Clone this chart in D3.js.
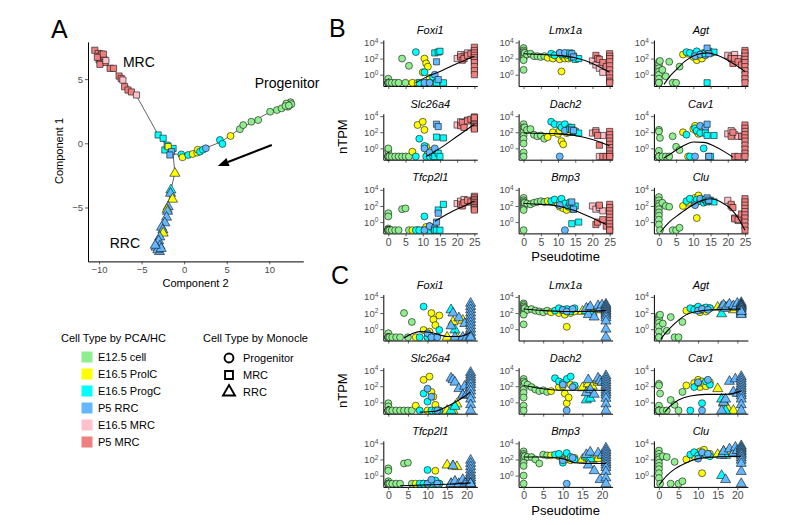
<!DOCTYPE html>
<html><head><meta charset="utf-8">
<script src="https://cdn.jsdelivr.net/npm/d3@7"></script>
<style>body{margin:0;background:#fff}svg{display:block}text{font-family:"Liberation Sans",Arial,Helvetica,sans-serif}</style>
</head><body><svg id="chart" width="787" height="525"></svg>
<script>
// ---------- Panel A: Monocle trajectory ----------
const aComp2 = [-10.5,-10.1,-9.9,-9.7,-10.0,-9.6,-9.8,-9.4,-10.2,-9.5,-9.3,-9.9,-9.2,
  -8.7,-8.3,-7.65,-7.4,-7.2,-7.0,-6.6,-6.2,-5.6,
  -3.06,-2.47,-2.27,-1.3,-2.0,-1.88,-1.48,-1.68,
  -0.33,-0.2,0.47,1.0,1.53,1.6,1.85,2.2,2.55,4.2,4.5,5.45,6.55,6.94,7.9,8.7,10.1,10.9,11.45,12.05,12.3,12.5,12.2,12.4,12.0,12.6,11.9,12.3,
  -1.09,-1.56,-1.6,-1.37,-1.88,-2.0,-1.95,-2.07,-2.27,-2.66,-2.5,-2.47,-2.86,-3.2,-3.0,-2.85,-3.3,-2.9,-3.1,-2.7,-3.4];
const aComp1 = [7.25,7.0,6.8,6.95,6.5,6.6,6.3,6.5,6.7,6.95,6.3,6.15,6.45,
  5.84,5.84,5.24,5.05,4.93,4.41,4.15,4.0,3.76,
  0.65,0.39,-0.52,-0.4,-0.15,-0.26,-0.65,-0.91,
  -0.87,-1.09,-0.91,-0.83,-0.73,-0.5,-0.65,-0.5,-0.39,0.26,-0.05,0.57,1.1,1.42,1.68,1.81,2.46,2.59,2.72,2.98,3.1,3.2,2.85,3.0,3.1,3.05,2.9,2.95,
  -2.34,-3.64,-3.9,-4.36,-4.94,-5.15,-5.3,-5.76,-6.2,-6.54,-6.75,-7.0,-7.3,-7.8,-7.6,-8.0,-8.1,-8.44,-8.3,-8.2,-7.95];
const aType  = [..."SSSSSSSSSSSSP" + "SSSSPSSSP" + "CCCCCYBB" + "CYCYYYCCBCCYGGGGGGGGGGGGGGGG" + "YCBYBYBBBBBYBBBBBBBBB"];
const aState = [..."sssssssssssss" + "sssssssss" + "ssssssss" + "oooooooooooooooooooooooooooo" + "ttttttttttttttttttttt"];
const trajMRC  = [[-10.4,7.2],[-9.9,6.8],[-7.4,5.1],[-5.6,3.7],[-3.0,0.6],[-1.3,-0.8]];
const trajProg = [[12.3,3.0],[10.1,2.45],[6.5,1.1],[4.3,0.1],[2.2,-0.45],[0,-0.95],[-1.3,-0.8]];
const trajRRC  = [[-1.3,-0.8],[-1.1,-2.3],[-1.6,-3.8],[-2.1,-5.5],[-2.7,-6.8],[-3.0,-8.3]];
const aLabels = [["MRC",-7.2,6.3],["Progenitor",8.3,4.7],["RRC",-8.75,-7.8]];
const aArrow = [[10.3,-0.13],[3.95,-1.77]];
const aXTicks = [-10,-5,0,5,10];
const aYTicks = [-5,0,5];

// ---------- Legend ----------
const typeCodes  = ["G","Y","C","B","P","S"];
const typeLabels = ["E12.5 cell","E16.5 ProlC","E16.5 ProgC","P5 RRC","E16.5 MRC","P5 MRC"];
const typeColors = ["#90EE90","#FFFF00","#00FFFF","#63B8FF","#FFC0CB","#F08080"];
const stateCodes = ["o","s","t"];
const stateLabels = ["Progenitor","MRC","RRC"];

// ---------- Panels B/C: genes ----------
const genes = ["Foxi1","Lmx1a","Agt","Slc26a4","Dach2","Cav1","Tfcp2l1","Bmp3","Clu"];
const logTicks = [0,2,4];

// Panel B cells (MRC branch)
const bPseudotime = [0,0,0,0,0,0,0,0,0,0.3,1,2,3,4,5,6, 7,8.5,10,10.5,11,11.5,12,12.5,13, 8,9,10.5,11,12,13, 10.5,12,13.5,
  13.5,14,14.5,15,16, 14,14.5, 20,21,22,23, 21,21.5,22,23,24,25,25,25,25,25,25,25,25,25,25];
const bType  = [..."GGGGGGGGGGGGGGGG" + "YYYYYYYYY" + "CCCCCC" + "BBB" + "CCCCC" + "BB" + "PPPP" + "SSSSSSSSSSSSSSS"];
const bState = [..."oooooooooooooooo" + "ooooooooo" + "oooooo" + "ooo" + "sssss" + "ss" + "ssss" + "sssssssssssssss"];
const bXTicks = [0,5,10,15,20,25];
// log10 nTPM per cell (−1 = not detected)
const bFoxi1 = [-0.5,-1,-1,-1,-1,-1,-1,-1,-1,-1,-1,-1,-1,2.0,-1,1.1, -1,-1,0.3,2.0,1.4,1.0,-0.4,-1,-1, 2.8,-1,0.3,-1,-1,-0.3, -1,-1,0.0,
  2.7,-1,2.8,2.9,-1, 1.6,-0.6, 2.0,2.5,2.3,2.7, 2.2,1.8,2.0,2.4,2.6,3.4,3.0,2.7,2.4,2.1,1.8,1.5,1.0,0.5,0.0];
const bLmx1a = [3.3,3.0,2.8,2.6,2.4,2.2,2.0,1.8,0.6,2.7,2.5,2.6,2.3,2.3,2.2,2.3, 2.1,2.0,2.1,1.9,0.4,2.2,2.0,2.3,2.0, 2.6,2.4,2.7,2.5,2.6,2.4, 2.7,2.7,2.5,
  2.7,2.1,2.3,1.9,2.0, 2.6,2.2, 1.7,1.2,0.8,0.3, 2.4,2.0,1.9,1.5,1.0,2.6,2.3,2.0,1.6,1.1,0.6,0.1,-0.4,-0.8,-1];
const bAgt = [1.6,1.2,0.8,0.4,0,-0.5,-1,-1,-1,1.7,0.6,-0.2,1.6,-1,-1,1.0, 2.5,2.6,2.2,2.4,1.8,2.3,2.5,2.0,2.6, 2.8,2.7,2.6,2.9,2.5,2.7, 2.3,2.5,2.4,
  2.6,-1,2.9,2.7,2.8, 3.3,2.6, 2.4,2.2,2.5,2.0, 2.0,1.4,2.0,1.6,1.2,3.0,2.7,2.3,1.9,1.5,1.0,0.5,0.0,-0.5,-1];
const bSlc26a4 = [-0.3,0,-1,-1,-1,-1,-1,-1,-1,-1,-1,-1,-1,-1,-1,-1, -0.4,2.9,3.3,2.3,0.2,-0.6,-1,-0.3,-1, -1,1.2,0.3,-1,-1,-1, 0.0,-0.5,0.0,
  -1,1.4,-0.6,-1,1.3, 3.0,2.7, 2.9,3.3,3.1,3.5, 2.8,3.2,2.6,3.4,3.6,3.9,3.7,3.5,3.3,3.1,2.9,2.7,2.5,2.4,3.8];
const bDach2 = [3.0,2.6,2.3,2.0,1.6,1.2,0.6,-0.5,-1,2.6,2.3,2.4,1.7,1.5,1.6,1.2, 1.4,2.0,1.8,2.2,0.9,0.5,2.3,1.9,2.0, 3.3,3.0,2.9,2.6,3.0,2.4, -1,2.2,2.6,
  2.4,2.6,2.0,2.1,1.9, 2.3,2.2, 1.9,2.2,-1,1.6, 2.0,1.6,0.4,-1,-1,2.1,1.7,1.3,0.9,0.5,0.1,-0.3,-0.7,-1,-1];
const bCav1 = [2.3,2.1,-0.3,-1,-1,-1,-1,-1,-1,1.3,-1,-1,-1,1.5,0.2,-0.2, 2.0,-1,2.4,2.8,2.1,1.8,2.6,2.2,2.3, 1.7,-1,2.5,2.2,1.9,0.0, -1,2.8,2.6,
  1.9,1.6,-1,-1,1.6, 3.0,-1, 1.8,2.2,1.7,1.5, 1.5,2.0,-1,-1,1.5,2.9,2.5,2.1,1.7,1.3,0.9,0.4,-0.1,-0.6,-1];
const bTfcp2l1 = [1.1,0.7,-0.8,-1,-1,-1,-1,-1,-1,-1,-1,-1,-1,1.6,1.7,-1, -1,-1,-1,-1,-0.6,-1,-0.5,-1,-1, -1,-1,0.7,-1,-1,-0.8, -1,-0.5,-0.7,
  -1,-1,1.5,-1,2.2, 0.0,1.1, 2.3,2.6,2.8,2.5, 2.2,2.0,2.4,2.7,2.5,3.2,3.0,2.8,2.6,2.4,2.2,2.0,1.8,1.6,1.5];
const bBmp3 = [3.0,2.7,2.5,2.3,2.1,1.9,1.7,1.5,-1,2.4,2.3,2.2,2.4,2.5,2.6,2.5, 2.6,2.5,2.2,1.9,2.1,1.7,2.3,1.5,2.0, 2.6,2.8,2.5,2.9,2.3,1.9, 2.1,-1,2.2,
  2.4,-0.2,1.6,2.0,0.0, 2.5,1.6, 2.0,1.6,1.8,1.4, -0.3,0.0,2.1,0.3,-0.5,2.2,1.8,1.4,1.0,0.6,0.2,-0.2,-0.6,-1,-1];
const bClu = [3.1,2.7,2.3,2.0,1.6,1.2,0.8,0.3,-0.3,-1,2.4,2.0,1.9,-1,-1,-0.7, 2.0,2.4,2.7,3.0,0.5,3.3,2.6,2.8,2.7, 2.6,2.9,2.5,2.8,2.6,2.4, 2.1,2.9,2.7,
  2.8,2.5,2.6,2.7,2.5, 3.0,2.7, 2.7,2.0,0.5,0.2, 2.2,1.8,0.4,0.3,1.0,2.9,2.5,2.1,1.7,1.3,0.9,0.5,0.0,-0.5,-1];
// fitted trends [pseudotime, log10 nTPM]
const bFitFoxi1 = [[8,-1.0],[11,-0.3],[15,0.4],[20,1.4],[25,2.3]];
const bFitLmx1a = [[0,2.6],[5,2.5],[10,2.4],[15,2.1],[20,1.4],[25,0.3]];
const bFitAgt = [[1.5,-1.2],[3,-0.3],[5,0.6],[8,1.8],[11,2.5],[14,2.7],[17,2.4],[20,1.8],[23,1.0],[25,0.4]];
const bFitSlc26a4 = [[11,-1.0],[15,0.0],[20,1.5],[25,3.0]];
const bFitDach2 = [[0,1.9],[10,1.8],[15,1.6],[20,1.1],[25,0.3]];
const bFitCav1 = [[1.5,-1.2],[4,-0.5],[7,0.3],[10,0.8],[13,0.75],[16,0.3],[19,-0.4],[21.5,-1.1]];
const bFitTfcp2l1 = [[13.5,0.1],[18,1.2],[22,2.0],[25,2.6]];
const bFitBmp3 = [[0,2.3],[5,2.2],[10,2.0],[15,1.4],[20,0.5],[24,-0.3]];
const bFitClu = [[0.5,-1.2],[3,0],[6,1.0],[9,1.9],[12,2.6],[15,2.9],[18,2.5],[21,1.6],[23,0.5],[25,-1.0]];

// Panel C cells (RRC branch)
const cPseudotime = [0,0,0,0,0,0,0,0,0,0.3,1,2,3,4,5,6, 7,9,10,10.5,11,11.5,12,13, 8,9,10,11,12,13, 10,11,12.5,
  15,16.5,17.5,19, 16,17, 16,16.5,17,18,19,19.5,20,21,21,21,21,21,21,21,21,21,21,21,21];
const cType  = [..."GGGGGGGGGGGGGGGG" + "YYYYYYYY" + "CCCCCC" + "BBB" + "YYYY" + "CC" + "BBBBBBBBBBBBBBBBBBB"];
const cState = [..."oooooooooooooooo" + "oooooooo" + "oooooo" + "ooo" + "tttt" + "tt" + "ttttttttttttttttttt"];
const cXTicks = [0,5,10,15,20];
const cFoxi1 = [-0.5,-1,-1,-1,-1,-1,-1,-1,-1,-1,-1,-1,-1,2.0,-1,0.9, -1,-0.1,-1,-0.3,2.0,1.2,0.5,1.7, -1,2.8,-1,-1,-1,-0.1, -0.5,-1,-1,
  -1,0.9,-1,1.1, 2.4,-0.1, 0.4,2.0,-1,1.4,-1,0.7,-1,3.2,2.8,2.4,2.0,1.6,1.2,0.8,0.4,0,-0.4,-0.8,-1];
const cLmx1a = [3.2,3.0,2.8,2.6,2.4,2.2,2.0,1.8,0.6,2.6,2.4,2.5,2.3,2.2,2.1,2.3, 2.1,2.0,2.2,1.8,0.3,2.4,2.0,2.2, 2.3,2.6,2.4,2.5,2.2,2.6, 2.4,2.2,2.5,
  2.2,2.5,2.1,2.4, 2.3,2.0, 2.6,1.8,2.8,1.5,2.9,2.5,3.0,3.1,2.9,2.7,2.5,2.3,2.1,1.9,1.7,1.4,1.0,0.0,-1];
const cAgt = [1.7,1.5,1.2,0.8,0.3,-0.3,-1,-1,-1,1.8,0.7,-0.2,1.5,-1,-1,0.9, 2.3,2.5,2.7,2.1,2.4,2.6,2.2,2.6, 2.6,2.4,2.8,2.5,2.7,2.6, 2.3,2.5,2.4,
  2.7,2.6,2.8,2.4, 1.9,2.7, 2.8,3.0,2.6,3.1,2.9,2.7,3.2,3.3,3.1,3.0,2.9,2.8,2.7,2.5,2.3,2.1,1.9,1.8,2.2];
const cSlc26a4 = [-0.1,-0.5,-1,-1,-1,-1,-1,-1,-1,-1,-1,-1,-1,-1,-1,-1, -0.4,2.8,-1,3.2,1.3,0.7,-0.3,-1, -1,1.1,0.1,-1,-1,-1, 1.7,0.7,-1,
  -1,-1,-0.2,0.9, -1,-0.5, 3.0,2.8,2.5,1.7,0.9,2.0,1.0,3.7,3.4,3.1,2.8,2.5,2.2,1.8,1.4,0.9,0.4,-0.3,-1];
const cDach2 = [2.9,2.6,2.3,2.0,1.6,1.2,0.6,-0.4,-1,2.4,2.2,1.9,1.6,1.4,1.5,1.3, 1.4,1.9,2.0,1.1,-0.1,0.6,2.2,2.0, 3.0,2.6,2.4,2.9,3.2,2.1, 2.2,-1,1.9,
  1.8,2.3,2.0,2.5, 0.3,0.5, 1.2,2.8,1.6,1.0,3.0,2.7,2.5,3.3,3.0,2.7,2.4,2.1,1.8,1.5,1.2,0.9,0.5,-0.2,-1];
const cCav1 = [2.3,2.1,-0.4,-1,-1,-1,-1,-1,-1,1.1,-1,-1,0.3,-0.3,-1,1.3, 2.1,2.4,2.8,1.9,2.6,2.3,2.0,2.5, -1,1.9,2.4,-0.1,2.6,2.2, 2.5,-1,2.8,
  1.7,-0.1,-0.7,-1, 0.4,-1, -1,0.0,0.4,2.6,1.3,2.9,1.1,3.2,2.9,2.6,2.3,2.0,1.7,1.4,1.1,0.8,0.4,-0.3,-1];
const cTfcp2l1 = [0.9,0.6,-0.7,-1,-1,-1,-1,-1,-1,-1,-1,-1,-1,1.5,1.6,-1, -1,-1,-1,-1,-0.7,-1,0.6,-1, -1,-1,0.7,-1,-0.6,-1, -1,-0.5,-1,
  1.3,1.2,1.1,-1, -1,-0.8, -1,1.2,-0.7,-1,-0.5,-1,-0.8,1.9,1.5,1.1,0.7,0.3,0,-0.3,-0.6,-0.9,-1,-1,-1];
const cBmp3 = [3.0,2.7,2.5,2.2,1.9,1.6,1.2,0.0,-1,2.4,2.3,2.3,2.0,1.5,2.6,2.5, 2.5,2.4,2.2,2.1,2.0,2.3,1.9,2.2, 2.6,2.7,1.6,2.8,2.3,2.0, 1.9,-1,2.2,
  2.0,2.2,2.0,2.1, 2.4,2.1, 2.6,1.3,2.9,0.6,2.8,-0.5,2.5,3.4,3.1,2.8,2.5,2.2,1.9,1.6,1.3,1.0,0.5,-0.3,-1];
const cClu = [3.1,2.7,2.3,2.0,1.6,1.2,0.8,0.3,-0.3,-1,2.4,2.3,-1,1.7,-1,-0.7, 2.0,2.4,2.8,3.0,0.3,3.2,2.6,2.7, 2.6,2.9,2.5,2.8,2.6,2.4, 2.1,2.9,2.7,
  2.6,3.0,2.8,2.7, 0.0,2.5, 2.5,3.0,-0.5,3.3,2.8,3.5,3.1,3.7,3.5,3.3,3.1,2.9,2.7,2.5,2.2,1.9,1.5,0.5,-1];
const cFitFoxi1 = [[4,-1.1],[8,-0.3],[11,-0.4],[15,-0.9],[18,-0.9],[21,-0.4]];
const cFitLmx1a = [[0,2.5],[5,2.3],[10,2.2],[15,2.2],[21,2.3]];
const cFitAgt = [[0.5,-1.2],[2,-0.3],[4,0.7],[6,1.5],[8,2.0],[11,2.3],[15,2.45],[21,2.5]];
const cFitSlc26a4 = [[8,-1.2],[12,-1.1],[15,-0.5],[18,0.3],[21,1.3]];
const cFitDach2 = [[0,2.1],[5,1.7],[10,1.5],[15,1.5],[21,1.5]];
const cFitCav1 = [[1.5,-1.2],[3,-0.4],[5,0.3],[8,0.8],[12,1.0],[17,1.0],[21,1.4]];
const cFitTfcp2l1 = [[3,-1.25],[10,-1.15],[16,-1.05],[21,-0.9]];
const cFitBmp3 = [[0,2.3],[5,2.3],[10,2.1],[13,1.6],[16,1.5],[21,1.5]];
const cFitClu = [[0,-1.2],[2,0],[4,0.8],[7,1.6],[10,2.1],[14,2.3],[21,2.4]];

// ================= drawing =================
const svg = d3.select("#chart");
const colorScale = d3.scaleOrdinal().domain(typeCodes).range(typeColors);
const symbolScale = d3.scaleOrdinal().domain(stateCodes).range([d3.symbolCircle, d3.symbolSquare, d3.symbolTriangle]);
const symbolSize = {o: 38, s: 38, t: 44};
const tickGrey = "#4D4D4D";

function styleAxis(g, fs) {
  g.select(".domain").attr("stroke", "#000").attr("stroke-width", 1);
  g.selectAll(".tick line").attr("stroke", "#333").attr("stroke-width", 0.8);
  g.selectAll(".tick text").attr("fill", tickGrey).attr("font-size", fs).attr("font-family", "Liberation Sans, Arial, sans-serif");
}
function drawPoints(g, xs, ys, types, states) {
  g.selectAll("path.pt").data(xs.map((x, i) => ({x, y: ys[i], t: types[i], s: states[i]})))
    .enter().append("path").attr("class", "pt")
    .attr("transform", d => `translate(${d.x},${d.y})`)
    .attr("d", d => d3.symbol().type(symbolScale(d.s)).size(symbolSize[d.s])())
    .attr("fill", d => colorScale(d.t)).attr("stroke", "#111").attr("stroke-width", 0.6);
}

// ---- Panel A ----
const xA = d3.scaleLinear().domain([-11.3, 14.0]).range([88, 303.3]);
const yA = d3.scaleLinear().domain([-9.2, 7.9]).range([261.4, 41.9]);
const gA = svg.append("g");
gA.append("g").attr("transform", "translate(0,261.4)")
  .call(d3.axisBottom(xA).tickValues(aXTicks).tickSize(3).tickSizeOuter(0).tickPadding(2)).call(styleAxis, "9.5px");
gA.append("g").attr("transform", "translate(88,0)")
  .call(d3.axisLeft(yA).tickValues(aYTicks).tickSize(3).tickSizeOuter(0).tickPadding(2)).call(styleAxis, "9.5px");
const trajLine = d3.line().x(d => xA(d[0])).y(d => yA(d[1]));
[trajMRC, trajProg, trajRRC].forEach(t => gA.append("path").attr("d", trajLine(t)).attr("fill", "none").attr("stroke", "#222").attr("stroke-width", 0.7));
drawPoints(gA, aComp2.map(v => xA(v)), aComp1.map(v => yA(v)), aType, aState);
aLabels.forEach(([t, x, y]) => gA.append("text").attr("x", xA(x)).attr("y", yA(y)).attr("dy", "0.35em").attr("font-size", "14px").attr("fill", "#000").text(t));
// arrow
{
  const [p0, p1] = aArrow.map(p => [xA(p[0]), yA(p[1])]);
  const ang = Math.atan2(p1[1] - p0[1], p1[0] - p0[0]);
  const L = 11, W = 4.2;
  const base = [p1[0] - L * Math.cos(ang), p1[1] - L * Math.sin(ang)];
  gA.append("line").attr("x1", p0[0]).attr("y1", p0[1]).attr("x2", base[0]).attr("y2", base[1]).attr("stroke", "#000").attr("stroke-width", 2);
  const nx = -Math.sin(ang), ny = Math.cos(ang);
  gA.append("path").attr("d", `M${p1[0]},${p1[1]}L${base[0] + W * nx},${base[1] + W * ny}L${base[0] - W * nx},${base[1] - W * ny}Z`).attr("fill", "#000");
}
gA.append("text").attr("x", 195.5).attr("y", 287).attr("text-anchor", "middle").attr("font-size", "11px").text("Component 2");
gA.append("text").attr("transform", "translate(63,151) rotate(-90)").attr("text-anchor", "middle").attr("font-size", "11px").text("Component 1");

// panel letters
[["A", 51, 38], ["B", 329, 37], ["C", 331, 284]].forEach(([t, x, y]) =>
  svg.append("text").attr("x", x).attr("y", y).attr("font-size", "25px").attr("fill", "#000").text(t));

// ---- Legend ----
const gL = svg.append("g");
gL.append("text").attr("x", 61).attr("y", 342).attr("font-size", "11px").text("Cell Type by PCA/HC");
typeCodes.forEach((c, i) => {
  const y = 357 + i * 17;
  gL.append("rect").attr("x", 81.5).attr("y", y - 5.5).attr("width", 11).attr("height", 11).attr("fill", colorScale(c));
  gL.append("text").attr("x", 98).attr("y", y).attr("dy", "0.35em").attr("font-size", "11px").text(typeLabels[i]);
});
gL.append("text").attr("x", 203).attr("y", 342).attr("font-size", "11px").text("Cell Type by Monocle");
stateCodes.forEach((c, i) => {
  const y = 358 + i * 17;
  gL.append("path").attr("transform", `translate(229,${y})`)
    .attr("d", d3.symbol().type(symbolScale(c)).size(62)())
    .attr("fill", "none").attr("stroke", "#000").attr("stroke-width", 1.9);
  gL.append("text").attr("x", 243).attr("y", y).attr("dy", "0.35em").attr("font-size", "11px").text(stateLabels[i]);
});

// ---- Panels B & C ----
const colLeft = [383.3, 518.6, 653.9];
const plotW = 94, plotH = 46;
function drawGrid(cfg) {
  cfg.exprs.forEach((expr, gi) => {
    const r = Math.floor(gi / 3), c = gi % 3;
    const left = colLeft[c], top = cfg.rowTop[r], bottom = top + plotH;
    const x = d3.scaleLinear().domain(cfg.xDomain).range([left, left + plotW]);
    const y = d3.scaleLog().domain([Math.pow(10, -1.4), Math.pow(10, 4.3)]).range([bottom, top]);
    const g = svg.append("g");
    const ax = g.append("g").attr("transform", `translate(0,${bottom})`)
      .call(d3.axisBottom(x).tickValues(cfg.xTicks).tickSize(3).tickSizeOuter(0).tickPadding(2)
        .tickFormat(r === 2 ? d3.format("d") : () => ""));
    styleAxis(ax, "10.5px");
    const ay = g.append("g").attr("transform", `translate(${left},0)`)
      .call(d3.axisLeft(y).tickValues(logTicks.map(k => Math.pow(10, k))).tickSize(3).tickSizeOuter(0).tickPadding(2));
    styleAxis(ay, "9.5px");
    ay.selectAll(".tick text").each(function(d) {
      const t = d3.select(this);
      t.text(null);
      t.append("tspan").text("10");
      t.append("tspan").attr("dy", "-0.5em").attr("font-size", "6.5px").text(Math.round(Math.log10(d)));
    });
    drawPoints(g, cfg.pseudotime.map(v => x(v)), expr.map(v => y(Math.pow(10, v))), cfg.types, cfg.states);
    const fit = cfg.fits[gi];
    g.append("path").attr("d", d3.line().curve(d3.curveMonotoneX).x(d => x(d[0])).y(d => y(Math.pow(10, d[1])))(fit))
      .attr("fill", "none").attr("stroke", "#000").attr("stroke-width", 1.1);
    g.append("text").attr("x", left + plotW / 2).attr("y", top - 6).attr("text-anchor", "middle")
      .attr("font-size", "11px").attr("font-style", "italic").text(genes[gi]);
  });
  svg.append("text").attr("x", colLeft[1] + plotW / 2).attr("y", cfg.rowTop[2] + plotH + 28).attr("text-anchor", "middle")
    .attr("font-size", "13px").text("Pseudotime");
  svg.append("text").attr("transform", `translate(347,${(cfg.rowTop[0] + cfg.rowTop[2] + plotH) / 2}) rotate(-90)`)
    .attr("text-anchor", "middle").attr("font-size", "13px").text("nTPM");
}
drawGrid({
  rowTop: [40, 113.7, 187.4], xDomain: [-1.45, 25.85], xTicks: bXTicks,
  pseudotime: bPseudotime, types: bType, states: bState,
  exprs: [bFoxi1, bLmx1a, bAgt, bSlc26a4, bDach2, bCav1, bTfcp2l1, bBmp3, bClu],
  fits: [bFitFoxi1, bFitLmx1a, bFitAgt, bFitSlc26a4, bFitDach2, bFitCav1, bFitTfcp2l1, bFitBmp3, bFitClu]
});
drawGrid({
  rowTop: [294.5, 367.7, 440.9], xDomain: [-1.28, 22.7], xTicks: cXTicks,
  pseudotime: cPseudotime, types: cType, states: cState,
  exprs: [cFoxi1, cLmx1a, cAgt, cSlc26a4, cDach2, cCav1, cTfcp2l1, cBmp3, cClu],
  fits: [cFitFoxi1, cFitLmx1a, cFitAgt, cFitSlc26a4, cFitDach2, cFitCav1, cFitTfcp2l1, cFitBmp3, cFitClu]
});
</script></body></html>
